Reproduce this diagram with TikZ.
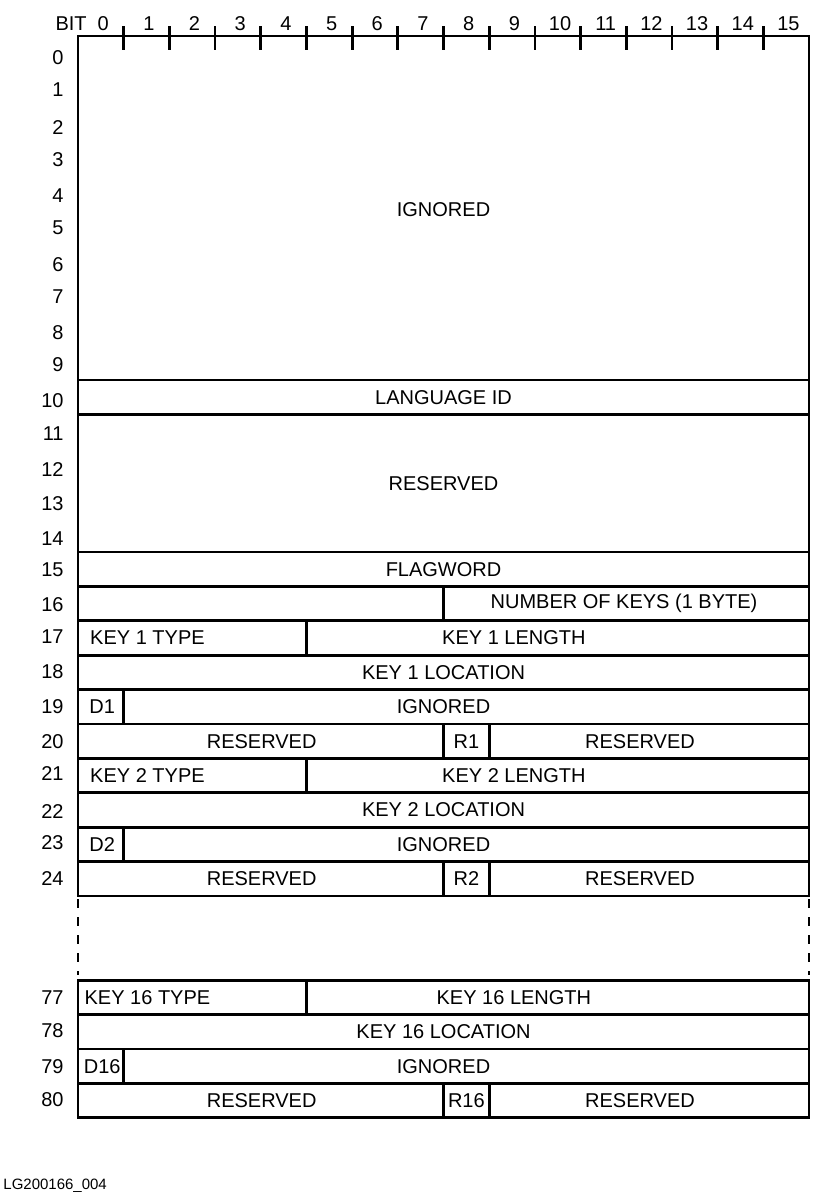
\documentclass[tikz,border=0pt]{standalone}
\usepackage{fontspec}
\setmainfont{Liberation Sans}
\begin{document}
\begin{tikzpicture}[line join=miter, line cap=rect, line width=1.4pt, x=22.845pt, y=-17.2pt,
		font=\fontsize{10}{12}\selectfont,
		rownum/.style={anchor=east, inner sep=0pt},
		brk/.style={line cap=butt, dash pattern=on 4.5pt off 4.5pt}]
	\def\br{27.45} % top of row 77, under the break
	\useasboundingbox (-1.7072,-1.0465) rectangle (16.065,33.837);
	% bit ruler
	\node (bitlbl) at (-0.15,-0.36) {BIT};
	\foreach \i in {0,...,15} \node (bit\i) at (\i+0.55,-0.36) {\i};
	\foreach \i in {1,...,15} \draw (\i,-0.26) -- (\i,0.38);
	% word numbers
	\foreach \n/\y in {0/0.64,1/1.57,2/2.65,3/3.58,4/4.65,5/5.58,6/6.66,7/7.59,8/8.63,9/9.56,
		10/10.61,11/11.57,12/12.59,13/13.58,14/14.62,15/15.52,16/16.54,17/17.47,18/18.49,19/19.48,
		20/20.52,21/21.45,22/22.53,23/23.46,24/24.48,77/27.94,78/28.92,79/29.97,80/30.93}
		\node[rownum] (row\n) at (-0.285,\y) {\n};
	% frame
	\draw (0,25) -- (0,0) -- (16,0) -- (16,25);
	\foreach \r in {10,11,15,16,...,25} \draw (0,\r) -- (16,\r);
	\draw (0,\br) rectangle (16,\br+4);
	\foreach \r in {1,2,3} \draw (0,\br+\r) -- (16,\br+\r);
	\draw[brk] (0,25.1) -- (0,27.3);
	\draw[brk] (16,25.1) -- (16,27.3);
	\draw (8,16) -- (8,17);
	\node (ign) at (8,5.05) {IGNORED};
	\node (langid) at (8,10.5) {LANGUAGE ID};
	\node (resv) at (8,13) {RESERVED};
	\node (flag) at (8,15.5) {FLAGWORD};
	\node (nkeys) at (11.95,16.5) {NUMBER OF KEYS (1 BYTE)};
	% key descriptors
	\foreach \k/\r in {1/17,2/21,16/\br} {
		\draw (5,\r) -- (5,\r+1);
		\draw (1,\r+2) -- (1,\r+3);
		\draw (8,\r+3) -- (8,\r+4) (9,\r+3) -- (9,\r+4);
		\node (type\k) at (1.52,\r+0.5) {KEY \k\ TYPE};
		\node (len\k) at (9.54,\r+0.5) {KEY \k\ LENGTH};
		\node (loc\k) at (8,\r+1.5) {KEY \k\ LOCATION};
		\node (d\k) at (0.53,\r+2.5) {D\k};
		\node (ign\k) at (8,\r+2.5) {IGNORED};
		\node (resl\k) at (4.02,\r+3.5) {RESERVED};
		\node (r\k) at (8.5,\r+3.5) {R\k};
		\node (resr\k) at (12.3,\r+3.5) {RESERVED};
	}
	\node[anchor=west, inner sep=0pt, font=\fontsize{7.5}{9}\selectfont] (figid) at (-1.663,33.43) {LG200166\_004};
\end{tikzpicture}
\end{document}
